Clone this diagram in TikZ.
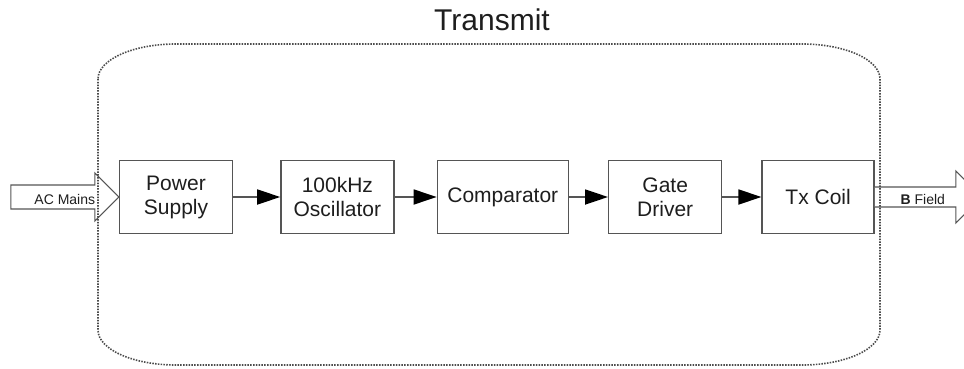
\documentclass[tikz,border=0pt]{standalone}
\usepackage{fontspec}
\setmainfont{Liberation Sans}
\usetikzlibrary{arrows.meta,positioning,calc}
\definecolor{wire}{RGB}{85,85,85}
\definecolor{ink}{RGB}{30,30,30}
\tikzset{
  block/.style={draw=wire,line width=1.4pt,fill=white,text=ink,
    minimum width=113pt,minimum height=73pt,align=center,
    font=\fontsize{21}{24}\selectfont},
  link/.style={draw=wire,line width=1.8pt,
    -{Triangle[length=23pt,width=15pt,color=black]}},
  bigarrow/.style={draw=wire,line width=1.1pt,fill=white,line join=miter},
  frame/.style={draw=wire!90!black,line width=1.6pt,dash pattern=on 1.5pt off 1.3pt},
  tag/.style={text=ink,font=\fontsize{14}{16}\selectfont},
}
\begin{document}
\begin{tikzpicture}[x=1pt,y=-1pt]
  \useasboundingbox (0,0) rectangle (964,369);
  % processing chain
  \node[block] (ps) at (176,197) {Power\\Supply};
  \node[block,right=47pt of ps] (osc) {100kHz\\Oscillator};
  \node[block,right=42pt of osc,minimum width=131pt] (comp) {Comparator};
  \node[block,right=39pt of comp] (drv) {Gate\\Driver};
  \node[block,right=39pt of drv,minimum width=112pt] (coil) {Tx Coil};
  \foreach \a/\b in {ps/osc,osc/comp,comp/drv,drv/coil}
    \draw[link] (\a) -- (\b);
  % input and output
  \draw[bigarrow] (ps.west) -- ++(-24,-24) -- ++(0,12) -- ++(-84,0)
    -- ++(0,24) -- ++(84,0) -- ++(0,12) -- cycle;
  \node[tag] (acl) at ($(ps.west)+(-54,2)$) {AC Mains};
  \draw[bigarrow] (coil.east) ++(0,-10) -- ++(81,0) -- ++(0,-16) -- ++(26,26)
    -- ++(-26,26) -- ++(0,-16) -- ++(-81,0);
  \node[tag] (bfl) at ($(coil.east)+(48,2)$) {\textbf{B} Field};
  % enclosure
  \draw[frame] (98,79) -- (98,330)
    .. controls (98,349.3) and (132.9,365) .. (176,365) -- (802,365)
    .. controls (845.1,365) and (880,349.3) .. (880,330) -- (880,79)
    .. controls (880,59.7) and (845.1,44) .. (802,44) -- (176,44)
    .. controls (132.9,44) and (98,59.7) .. cycle;
  \node[text=ink,font=\fontsize{30}{34}\selectfont] (title) at (492,20) {Transmit};
\end{tikzpicture}
\end{document}
